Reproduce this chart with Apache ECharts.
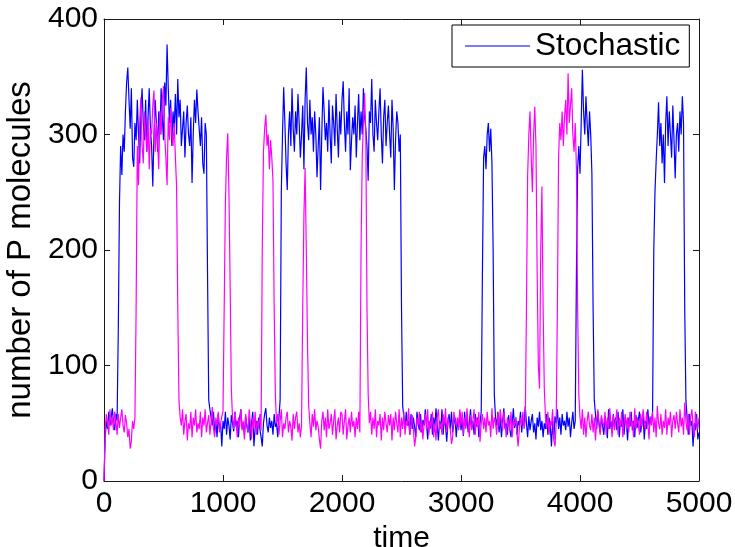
<!DOCTYPE html>
<html>
<head>
<meta charset="utf-8">
<script src="https://cdn.jsdelivr.net/npm/echarts@6/dist/echarts.min.js"></script>
<style>
  html, body { margin: 0; padding: 0; background: #fff; }
  #chart { width: 735px; height: 547px; }
</style>
</head>
<body>
<div id="chart"></div>
<script>
// Sampling grid of the traces (time units between samples)
const TIME_STEP = 10;
const xTicks = [0, 1000, 2000, 3000, 4000, 5000];
const yTicks = [0, 100, 200, 300, 400];
const seriesNames = ['Stochastic', 'Deterministic'];

// Blue trace (Stochastic), samples at t = 0, 10, 20, ... 5000 (one row = 100 time units)
const stochastic = [
  0, 38, 52, 45, 60, 48, 55, 63, 50, 44,
  58, 52, 130, 240, 290, 265, 300, 285, 320, 345,
  358, 330, 305, 340, 280, 272, 310, 295, 330, 300,
  275, 320, 340, 310, 295, 330, 285, 315, 340, 305,
  290, 255, 300, 330, 310, 285, 320, 300, 340, 315,
  295, 345, 325, 378, 340, 310, 330, 290, 320, 305,
  335, 300, 348, 315, 330, 290, 305, 320, 280, 310,
  325, 300, 290, 315, 258, 300, 330, 310, 339, 320,
  305, 290, 315, 275, 266, 310, 300, 180, 70, 62,
  55, 48, 60, 42, 52, 38, 58, 45, 50, 30,
  52, 45, 60, 40, 55, 48, 36, 57, 50, 43,
  60, 47, 52, 38, 55, 62, 45, 50, 40, 56,
  48, 42, 55, 35, 50, 60, 30, 46, 52, 40,
  55, 45, 38, 30, 50, 58, 63, 48, 42, 55,
  46, 52, 40, 58, 47, 50, 38, 55, 70, 250,
  300, 341, 310, 275, 252, 300, 320, 290, 340, 305,
  285, 320, 300, 335, 310, 280, 300, 325, 270, 330,
  358, 310, 295, 330, 300, 315, 285, 320, 300, 263,
  290, 315, 252, 300, 341, 320, 295, 310, 285, 330,
  300, 275, 325, 310, 290, 335, 305, 280, 320, 300,
  330, 346, 310, 285, 320, 300, 340, 269, 295, 315,
  300, 325, 280, 310, 335, 295, 320, 300, 340, 315,
  305, 290, 260, 320, 310, 348, 300, 285, 330, 310,
  295, 320, 340, 300, 275, 315, 330, 290, 310, 325,
  300, 280, 330, 305, 252, 295, 320, 310, 285, 300,
  150, 65, 55, 45, 60, 48, 52, 40, 58, 45,
  55, 47, 38, 60, 50, 44, 58, 42, 53, 48,
  62, 50, 36, 52, 45, 58, 40, 55, 47, 63,
  48, 35, 52, 45, 62, 40, 55, 48, 34, 50,
  58, 45, 60, 42, 50, 55, 38, 52, 46, 60,
  44, 53, 39, 60, 47, 55, 42, 50, 62, 45,
  52, 40, 58, 47, 55, 38, 50, 60, 180, 280,
  290, 270, 300, 310, 285, 305, 275, 200, 75, 55,
  48, 60, 42, 55, 38, 52, 63, 45, 50, 40,
  57, 45, 38, 50, 63, 46, 55, 40, 52, 48,
  60, 42, 55, 48, 65, 50, 38, 56, 44, 52,
  58, 42, 50, 36, 55, 47, 60, 44, 52, 38,
  50, 45, 58, 40, 55, 48, 30, 52, 36, 56,
  50, 62, 45, 55, 40, 58, 48, 52, 44, 60,
  47, 55, 38, 50, 60, 45, 52, 180, 270, 290,
  266, 310, 356, 320, 300, 333, 310, 290, 320, 300,
  266, 150, 70, 58, 45, 60, 50, 42, 55, 48,
  40, 56, 50, 37, 62, 45, 52, 42, 58, 48,
  55, 44, 60, 38, 52, 47, 62, 40, 55, 50,
  35, 55, 47, 60, 44, 52, 38, 57, 46, 53,
  60, 42, 50, 58, 36, 52, 45, 62, 48, 55,
  50, 60, 200, 250, 277, 300, 328, 290, 310, 275,
  300, 258, 310, 333, 290, 320, 300, 280, 325, 295,
  262, 300, 310, 285, 320, 300, 333, 310, 150, 70,
  55, 40, 58, 48, 52, 30, 50, 44, 58, 36,
  42
];

// Magenta trace, samples at t = 0, 10, 20, ... 5000 (one row = 100 time units)
const magenta = [
  0, 45, 58, 50, 40, 62, 48, 55, 44, 60,
  52, 40, 58, 46, 55, 62, 48, 42, 57, 50,
  38, 45, 28, 35, 52, 45, 55, 150, 290, 256,
  310, 332, 290, 275, 320, 300, 285, 315, 270, 305,
  300, 325, 338, 285, 310, 295, 270, 320, 300, 330,
  342, 300, 280, 256, 315, 295, 323, 300, 290, 310,
  280, 255, 150, 70, 55, 48, 62, 40, 52, 58,
  35, 50, 45, 60, 38, 55, 48, 62, 42, 50,
  45, 60, 38, 55, 48, 62, 42, 50, 57, 40,
  52, 64, 45, 38, 55, 48, 60, 42, 50, 56,
  60, 150, 240, 280, 301, 250, 170, 80, 55, 45,
  60, 50, 38, 55, 47, 62, 44, 52, 36, 58,
  48, 42, 62, 50, 36, 55, 45, 60, 40, 52,
  47, 58, 44, 200, 285, 305, 317, 290, 300, 270,
  295, 280, 260, 150, 75, 50, 58, 40, 52, 62,
  38, 50, 45, 55, 60, 42, 52, 47, 35, 58,
  45, 55, 60, 42, 50, 38, 48, 150, 230, 271,
  200, 120, 65, 50, 38, 58, 47, 62, 44, 52,
  47, 36, 28, 52, 60, 44, 55, 38, 62, 45,
  50, 58, 40, 52, 62, 36, 48, 55, 42, 60,
  58, 40, 52, 62, 36, 48, 55, 42, 60, 47,
  52, 38, 55, 45, 60, 42, 200, 280, 310, 336,
  300, 150, 75, 50, 60, 40, 55, 45, 62, 38,
  52, 48, 58, 35, 55, 44, 60, 50, 42, 57,
  48, 58, 35, 55, 44, 60, 50, 42, 62, 38,
  55, 45, 60, 40, 52, 48, 63, 40, 50, 57,
  45, 30, 38, 55, 48, 60, 42, 52, 36, 50,
  58, 44, 62, 40, 52, 47, 60, 38, 50, 35,
  55, 62, 45, 50, 40, 58, 48, 63, 42, 55,
  50, 45, 32, 38, 60, 52, 48, 55, 44, 62,
  48, 60, 40, 55, 45, 63, 50, 38, 57, 44,
  52, 62, 40, 55, 47, 60, 34, 50, 58, 45,
  55, 42, 60, 48, 52, 38, 63, 45, 55, 50,
  40, 58, 47, 62, 52, 44, 60, 50, 38, 55,
  50, 45, 60, 38, 52, 48, 55, 42, 30, 45,
  55, 48, 60, 45, 52, 150, 264, 300, 320, 280,
  250, 300, 324, 290, 180, 100, 80, 200, 255, 150,
  80, 55, 45, 60, 40, 52, 48, 62, 35, 30,
  50, 150, 280, 310, 295, 320, 290, 315, 330, 300,
  353, 310, 325, 340, 300, 285, 310, 270, 150, 75,
  55, 45, 62, 40, 55, 38, 52, 60, 48, 44,
  58, 42, 55, 35, 52, 62, 48, 40, 57, 50,
  48, 60, 40, 55, 45, 63, 50, 38, 57, 44,
  52, 62, 40, 55, 47, 60, 38, 50, 58, 45,
  55, 42, 60, 48, 52, 38, 63, 45, 55, 50,
  40, 58, 47, 62, 52, 44, 60, 50, 36, 56,
  48, 60, 42, 55, 38, 65, 50, 45, 58, 40,
  52, 46, 62, 40, 55, 48, 60, 38, 52, 57,
  45, 60, 50, 42, 62, 47, 55, 40, 68, 52,
  44, 58, 40, 55, 62, 48, 38, 60, 50, 45,
  55
];

const FONT = "'Liberation Sans', Arial, Helvetica, sans-serif";
const axisColor = '#1a1a1a';

function toPairs(arr) { return arr.map((v, i) => [i * TIME_STEP, v]); }
function plain(v) { return String(v); }

const chart = echarts.init(document.getElementById('chart'), null, { renderer: 'canvas' });

const baseX = {
  type: 'value',
  min: xTicks[0], max: xTicks[xTicks.length - 1],
  interval: xTicks[1] - xTicks[0],
  splitLine: { show: false },
  axisLine: { show: true, onZero: false, lineStyle: { color: axisColor, width: 1 } },
  axisTick: { show: true, inside: true, length: 6, lineStyle: { color: axisColor, width: 1 } }
};
const baseY = {
  type: 'value',
  min: yTicks[0], max: yTicks[yTicks.length - 1],
  interval: yTicks[1] - yTicks[0],
  splitLine: { show: false },
  axisLine: { show: true, onZero: false, lineStyle: { color: axisColor, width: 1 } },
  axisTick: { show: true, inside: true, length: 6, lineStyle: { color: axisColor, width: 1 } }
};

chart.setOption({
  animation: false,
  backgroundColor: '#ffffff',
  textStyle: { fontFamily: FONT },
  grid: { left: 104, top: 19, width: 595, height: 462, containLabel: false, outerBoundsMode: 'none' },
  legend: {
    show: true,
    left: 452, top: 25,
    padding: [5, 9, 5, 13],
    itemWidth: 65, itemHeight: 2,
    icon: 'rect',
    backgroundColor: '#ffffff',
    borderColor: '#000000', borderWidth: 1, borderRadius: 0,
    textStyle: { fontFamily: FONT, fontSize: 31.5, color: '#000' },
    data: [{ name: seriesNames[0], icon: 'rect', itemStyle: { color: '#7b7bff', borderWidth: 0 } }]
  },
  xAxis: [
    Object.assign({}, baseX, {
      position: 'bottom',
      name: 'time', nameLocation: 'middle', nameGap: 36,
      nameTextStyle: { fontFamily: FONT, fontSize: 30, color: '#000' },
      axisLabel: { show: true, margin: 8, fontFamily: FONT, fontSize: 30, color: '#000', formatter: plain }
    }),
    Object.assign({}, baseX, { position: 'top', axisLabel: { show: false } })
  ],
  yAxis: [
    Object.assign({}, baseY, {
      position: 'left',
      name: 'number of P molecules', nameLocation: 'middle', nameGap: 63, nameRotate: 90,
      nameTextStyle: { fontFamily: FONT, fontSize: 33, color: '#000' },
      axisLabel: { show: true, margin: 6, fontFamily: FONT, fontSize: 30, color: '#000', formatter: plain }
    }),
    Object.assign({}, baseY, { position: 'right', axisLabel: { show: false } })
  ],
  series: [
    {
      name: seriesNames[0], type: 'line', xAxisIndex: 0, yAxisIndex: 0,
      data: toPairs(stochastic), symbol: 'none', showSymbol: false,
      lineStyle: { color: '#0000ff', width: 1.2 }, itemStyle: { color: '#0000ff' },
      z: 2, silent: true
    },
    {
      name: seriesNames[1], type: 'line', xAxisIndex: 0, yAxisIndex: 0,
      data: toPairs(magenta), symbol: 'none', showSymbol: false,
      lineStyle: { color: '#ff00ff', width: 1.2 }, itemStyle: { color: '#ff00ff' },
      z: 3, silent: true
    }
  ]
});
</script>
</body>
</html>
